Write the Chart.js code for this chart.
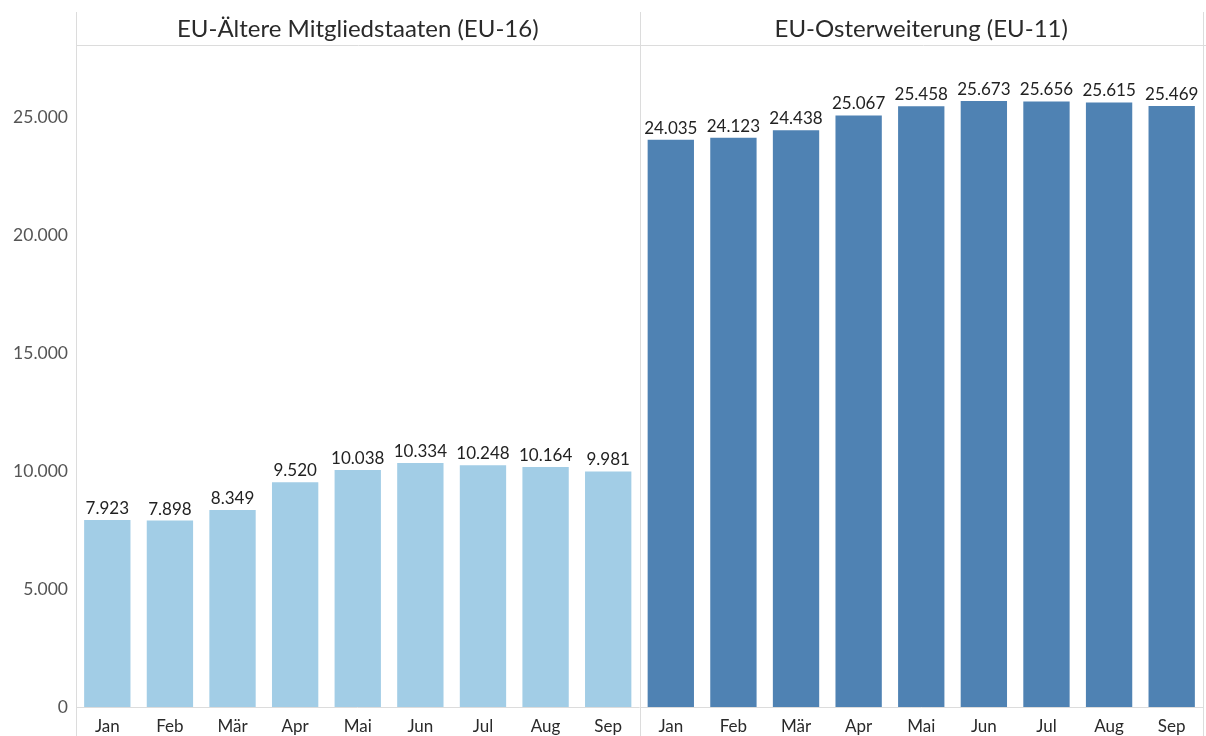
<!DOCTYPE html>
<html>
<head>
<meta charset="utf-8">
<script src="https://cdn.jsdelivr.net/npm/chart.js@4/dist/chart.umd.min.js"></script>
<style>
html,body{margin:0;padding:0;background:#fff;}
#wrap{width:1206px;height:736px;position:relative;}
</style>
</head>
<body>
<div id="wrap"><canvas id="c" width="1206" height="736"></canvas></div>
<script>
const months = ["Jan","Feb","Mär","Apr","Mai","Jun","Jul","Aug","Sep"];
const panelTitles = ["EU-Ältere Mitgliedstaaten (EU-16)", "EU-Osterweiterung (EU-11)"];
const eu16 = [7923, 7898, 8349, 9520, 10038, 10334, 10248, 10164, 9981];
const eu11 = [24035, 24123, 24438, 25067, 25458, 25673, 25656, 25615, 25469];
const yTicks = [0, 5000, 10000, 15000, 20000, 25000];
const colorEU16 = "#a2cde6";
const colorEU11 = "#4f82b3";

function fmt(v){
  return String(Math.round(v)).replace(/\B(?=(\d{3})+(?!\d))/g, ".");
}

const labels = months.concat(months);
const values = eu16.concat(eu11);
const colors = eu16.map(()=>colorEU16).concat(eu11.map(()=>colorEU11));

const FONT = "Lato, 'Open Sans', sans-serif";

const decor = {
  id: "decor",
  afterDraw(chart){
    const ctx = chart.ctx;
    const a = chart.chartArea;
    const xs = chart.scales.x;
    const mid = (xs.getPixelForValue(8) + xs.getPixelForValue(9)) / 2;
    ctx.save();
    ctx.strokeStyle = "#dcdcdc";
    ctx.lineWidth = 1;
    ctx.beginPath();
    ctx.moveTo(Math.round(a.left)+0.5, 12); ctx.lineTo(Math.round(a.left)+0.5, 736);
    ctx.moveTo(Math.round(mid)+0.5, 12); ctx.lineTo(Math.round(mid)+0.5, 736);
    ctx.moveTo(Math.round(a.right)+0.5, 12); ctx.lineTo(Math.round(a.right)+0.5, 736);
    ctx.moveTo(a.left, Math.round(a.top)+0.5); ctx.lineTo(1206, Math.round(a.top)+0.5);
    ctx.moveTo(a.left, Math.round(a.bottom)+0.5); ctx.lineTo(a.right, Math.round(a.bottom)+0.5);
    ctx.stroke();
    ctx.fillStyle = "#2a2a2a";
    ctx.font = "24px " + FONT;
    ctx.textAlign = "center";
    ctx.textBaseline = "middle";
    ctx.fillText(panelTitles[0], (a.left + mid)/2, 29);
    ctx.fillText(panelTitles[1], (mid + a.right)/2, 29);
    const meta = chart.getDatasetMeta(0);
    ctx.font = "17px " + FONT;
    ctx.fillStyle = "#222";
    ctx.textBaseline = "bottom";
    meta.data.forEach((bar, i) => {
      ctx.fillText(fmt(values[i]), bar.x, bar.y - 3);
    });
    ctx.restore();
  }
};

new Chart(document.getElementById("c"), {
  type: "bar",
  data: {
    labels: labels,
    datasets: [{
      data: values,
      backgroundColor: colors,
      borderWidth: 0,
      barPercentage: 0.74,
      categoryPercentage: 1.0
    }]
  },
  options: {
    responsive: false,
    animation: false,
    devicePixelRatio: 1,
    layout: { padding: { top: 45, right: 3, left: 0, bottom: 0 } },
    plugins: { legend: { display: false }, tooltip: { enabled: false } },
    scales: {
      x: {
        grid: { display: false, drawTicks: false },
        border: { display: false },
        ticks: { color: "#2a2a2a", font: { family: FONT, size: 17 }, padding: 9, maxRotation: 0, autoSkip: false },
        afterFit(s){ s.height = 29; }
      },
      y: {
        min: 0,
        max: 28050,
        grid: { display: false, drawTicks: false },
        border: { display: false },
        afterBuildTicks(s){ s.ticks = yTicks.map(v => ({ value: v })); },
        ticks: { color: "#555", font: { family: FONT, size: 17.5 }, padding: 8, callback: v => fmt(v) },
        afterFit(s){ s.width = 76; }
      }
    }
  },
  plugins: [decor]
});
</script>
</body>
</html>
